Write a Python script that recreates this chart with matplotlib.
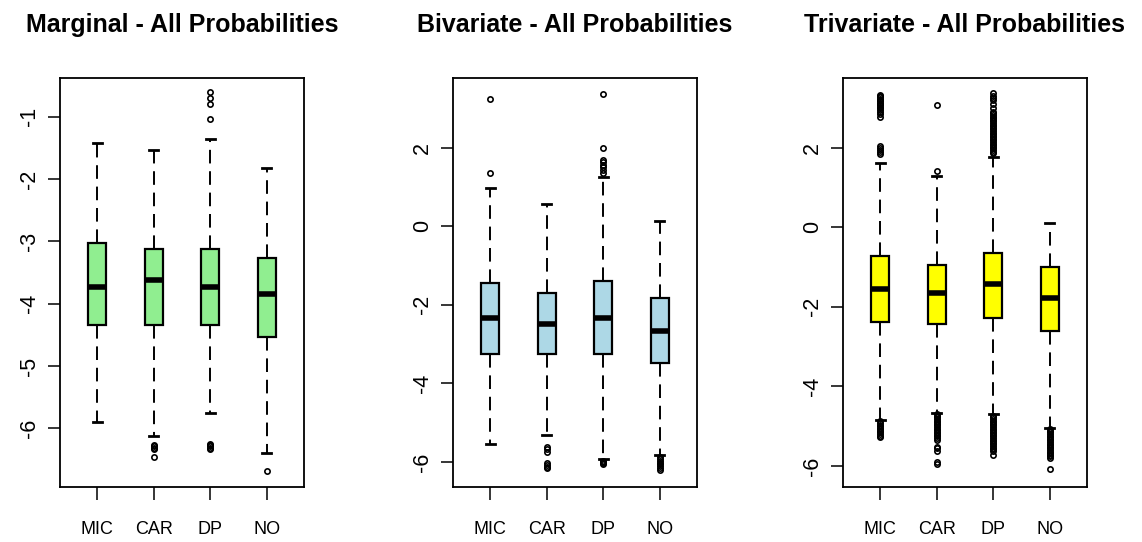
import matplotlib
matplotlib.use("Agg")
import matplotlib.pyplot as plt

plt.rcParams['font.family'] = ['Liberation Sans', 'DejaVu Sans']

groups = ["MIC", "CAR", "DP", "NO"]
titles = ["Marginal - All Probabilities", "Bivariate - All Probabilities",
          "Trivariate - All Probabilities"]
box_colors = ["#90EE90", "#ADD8E6", "#FFFF00"]

# Marginal
marg_q1 = [-4.34, -4.34, -4.34, -4.54]
marg_med = [-3.73, -3.62, -3.73, -3.84]
marg_q3 = [-3.02, -3.13, -3.13, -3.27]
marg_lo = [-5.89, -6.12, -5.75, -6.39]
marg_hi = [-1.43, -1.53, -1.36, -1.82]
marg_fliers = [
    [],
    [-6.27, -6.29, -6.31, -6.33, -6.46],
    [-0.6, -0.7, -0.8, -1.04, -6.25, -6.27, -6.29, -6.31, -6.33],
    [-6.68],
]
marg_ticks = [-6, -5, -4, -3, -2, -1]

# Bivariate
biv_q1 = [-3.24, -3.24, -3.24, -3.48]
biv_med = [-2.33, -2.50, -2.33, -2.67]
biv_q3 = [-1.43, -1.71, -1.39, -1.82]
biv_lo = [-5.55, -5.32, -5.93, -5.83]
biv_hi = [0.99, 0.58, 1.25, 0.13]
biv_fliers = [
    [3.24, 1.37],
    [-5.62, -5.68, -5.75, -6.04, -6.08, -6.12, -6.16],
    [3.36, 2.0, 1.69, 1.63, 1.57, 1.5, 1.43, 1.36, -5.97, -6.0, -6.03, -6.06],
    [-5.87, -5.92, -5.97, -6.02, -6.06, -6.1, -6.15, -6.2],
]
biv_ticks = [-6, -4, -2, 0, 2]

# Trivariate
tri_q1 = [-2.39, -2.44, -2.27, -2.61]
tri_med = [-1.55, -1.66, -1.43, -1.77]
tri_q3 = [-0.72, -0.95, -0.65, -1.00]
tri_lo = [-4.84, -4.66, -4.70, -5.04]
tri_hi = [1.61, 1.29, 1.77, 0.10]
tri_fliers = [
    [3.32, 3.29, 3.26, 3.23, 3.2, 3.16, 3.13, 3.1, 3.06, 3.03, 3.0, 2.95, 2.9,
     2.85, 2.78, 2.04, 1.98, 1.93, 1.88, 1.83,
     -4.88, -4.92, -4.96, -5.0, -5.04, -5.08, -5.12, -5.16, -5.2, -5.24, -5.27],
    [3.07, 1.41,
     -4.7, -4.74, -4.78, -4.82, -4.86, -4.9, -4.94, -4.98, -5.02, -5.06, -5.1,
     -5.14, -5.18, -5.22, -5.26, -5.3, -5.34, -5.52, -5.56, -5.62, -5.9, -5.94],
    [3.37, 3.3, 3.25, 3.2, 3.1, 3.0, 2.9, 2.86, 2.82, 2.78, 2.74, 2.7, 2.66,
     2.62, 2.58, 2.54, 2.5, 2.46, 2.42, 2.38, 2.34, 2.3, 2.26, 2.22, 2.18,
     2.14, 2.1, 2.06, 2.02, 1.98, 1.94, 1.9, 1.86,
     -4.74, -4.78, -4.82, -4.86, -4.9, -4.94, -4.98, -5.02, -5.06, -5.1, -5.14,
     -5.18, -5.22, -5.26, -5.3, -5.34, -5.38, -5.42, -5.46, -5.5, -5.54, -5.58,
     -5.62, -5.72],
    [-5.08, -5.12, -5.16, -5.2, -5.24, -5.28, -5.32, -5.36, -5.4, -5.44, -5.48,
     -5.52, -5.56, -5.6, -5.64, -5.68, -5.72, -5.76, -5.8, -6.07],
]
tri_ticks = [-6, -4, -2, 0, 2]

panels = [
    (marg_q1, marg_med, marg_q3, marg_lo, marg_hi, marg_fliers, marg_ticks, (-6.94, -0.38)),
    (biv_q1, biv_med, biv_q3, biv_lo, biv_hi, biv_fliers, biv_ticks, (-6.64, 3.78)),
    (tri_q1, tri_med, tri_q3, tri_lo, tri_hi, tri_fliers, tri_ticks, (-6.53, 3.75)),
]

W, H = 1142, 542
fig = plt.figure(figsize=(W / 100, H / 100), dpi=100)
lefts = [60, 453, 843]
ax_w = 244
ax_top, ax_bot = 78, 487

for i, (q1, med, q3, lo, hi, fl, ticks, ylim) in enumerate(panels):
    ax = fig.add_axes([lefts[i] / W, (H - ax_bot) / H, ax_w / W, (ax_bot - ax_top) / H])
    stats = []
    for j, g in enumerate(groups):
        stats.append(dict(label=g, q1=q1[j], med=med[j], q3=q3[j],
                          whislo=lo[j], whishi=hi[j], fliers=fl[j]))
    ax.bxp(stats, positions=[1, 2, 3, 4], widths=0.32, capwidths=0.16,
           patch_artist=True, showfliers=True,
           boxprops=dict(facecolor=box_colors[i], edgecolor='black', linewidth=1.6),
           medianprops=dict(color='black', linewidth=4.0, solid_capstyle='butt'),
           whiskerprops=dict(color='black', linewidth=1.4, linestyle=(0, (7, 4))),
           capprops=dict(color='black', linewidth=2.0),
           flierprops=dict(marker='o', markerfacecolor='none', markeredgecolor='black',
                           markersize=3.8, markeredgewidth=1.2))
    ax.set_xlim(0.34, 4.66)
    ax.set_ylim(*ylim)
    ax.set_yticks(ticks)
    ax.set_yticklabels([str(t) for t in ticks], rotation=90, va='center', fontsize=15.5)
    ax.set_xticks([1, 2, 3, 4])
    ax.set_xticklabels(groups, fontsize=13)
    ax.tick_params(axis='y', length=8.6, width=1.1, pad=6)
    ax.tick_params(axis='x', length=9.4, width=1.1, pad=15)
    for s in ax.spines.values():
        s.set_linewidth(1.3)
    cx = (lefts[i] + ax_w / 2) / W
    fig.text(cx, 1 - 32 / H, titles[i], ha='center', va='baseline',
             fontsize=18, fontweight='bold')

fig.savefig("out.png", dpi=100)
